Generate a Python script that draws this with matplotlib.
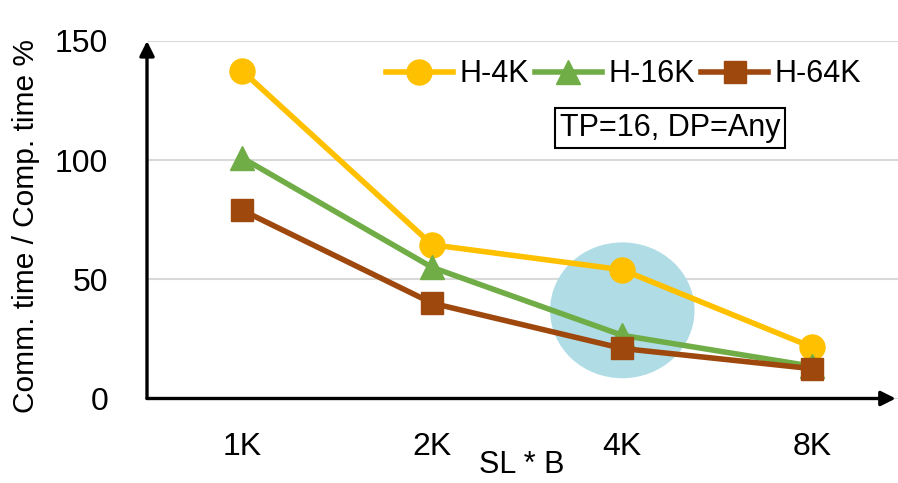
import matplotlib
matplotlib.use("Agg")
import matplotlib.pyplot as plt
from matplotlib.patches import Ellipse

categories = ["1K", "2K", "4K", "8K"]
h4k = [137.5, 64.5, 54, 21.5]
h16k = [101, 55, 26.5, 13.5]
h64k = [79, 40, 21, 12.5]
yticks = [0, 50, 100, 150]

plt.rcParams['font.family'] = ['Liberation Sans', 'DejaVu Sans']

W, H = 898, 483
fig = plt.figure(figsize=(W/100, H/100), dpi=100)
ax = fig.add_axes([147/W, 84.5/H, 751/W, 357.5/H])
ax.set_xlim(-0.5, 3.45)
ax.set_ylim(0, 150)

for s in ax.spines.values():
    s.set_visible(False)
ax.yaxis.grid(True, color='#d9d9d9', lw=1.5)
ax.set_axisbelow(True)
ax.set_yticks(yticks)
ax.tick_params(axis='both', length=0, labelsize=23)
ax.tick_params(axis='y', pad=28)
ax.tick_params(axis='x', pad=24)
x = list(range(len(categories)))
ax.set_xticks(x)
ax.set_xticklabels(categories)

# highlight circle
ax.add_patch(Ellipse((2, 37), width=0.76, height=57, color='#b0dce6', zorder=1, lw=0))

ax.plot(x, h4k, color='#FFC000', lw=4, marker='o', ms=18, label='H-4K', zorder=3)
ax.plot(x, h16k, color='#70AD47', lw=4, marker='^', ms=17, label='H-16K', zorder=3)
ax.plot(x, h64k, color='#9E480E', lw=4, marker='s', ms=16, label='H-64K', zorder=3)

# axis arrows
ax.annotate('', xy=(0, 1.0), xytext=(0, 0), xycoords='axes fraction',
            arrowprops=dict(arrowstyle='-|>', lw=2.4, color='black', mutation_scale=22, shrinkA=0, shrinkB=0))
ax.annotate('', xy=(0.997, 0), xytext=(0, 0), xycoords='axes fraction',
            arrowprops=dict(arrowstyle='-|>', lw=2.4, color='black', mutation_scale=22, shrinkA=0, shrinkB=0))

leg = ax.legend(loc='upper right', bbox_to_anchor=(0.975, 1.0), ncol=3, frameon=False,
                fontsize=22, handlelength=2.2, handletextpad=0.2, columnspacing=0.2,
                borderaxespad=0.2)

fig.text(670/W, 1 - 128/H, 'TP=16, DP=Any', fontsize=22, ha='center', va='center',
         bbox=dict(boxstyle='square,pad=0.15', fc='white', ec='black', lw=1.5))

fig.text(522/W, 1 - 465/H, 'SL * B', fontsize=22, ha='center', va='center')
fig.text(26/W, 1 - 226/H, 'Comm. time / Comp. time %', fontsize=21.5, rotation=90,
         ha='center', va='center')

fig.savefig('out.png', dpi=100)
